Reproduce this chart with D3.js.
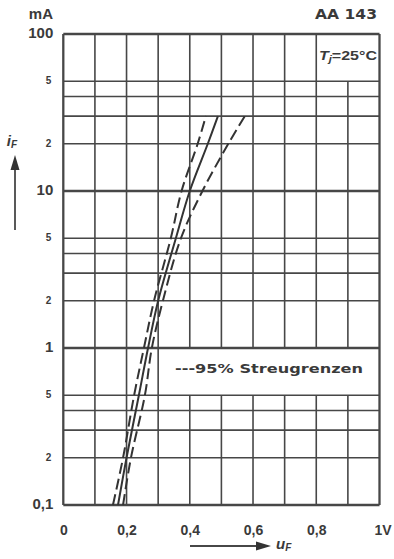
<!DOCTYPE html>
<html><head><meta charset="utf-8">
<script src="https://cdn.jsdelivr.net/npm/d3@7"></script>
<style>
html,body{margin:0;padding:0;background:#fff;}
svg{display:block;}
text{font-family:"Liberation Sans","DejaVu Sans",sans-serif;fill:#3a3a3a;}
.wide{font-family:"DejaVu Sans",sans-serif;}
</style></head>
<body>
<svg id="c" width="394" height="559"></svg>
<script>
// ---- data ----
const currents_mA = [0.1, 0.2, 0.5, 1, 2, 5, 10, 20, 30];
const typical_V   = [0.173, 0.200, 0.239, 0.268, 0.300, 0.356, 0.400, 0.457, 0.489];
const lower95_V   = [0.157, 0.189, 0.224, 0.255, 0.287, 0.340, 0.374, 0.425, 0.451];
const upper95_V   = [0.189, 0.214, 0.258, 0.280, 0.315, 0.372, 0.440, 0.522, 0.574];
const xGrid = [0, 0.1, 0.2, 0.3, 0.4, 0.5, 0.6, 0.7, 0.8, 0.9, 1.0];
const xTickVals = [0, 0.2, 0.4, 0.6, 0.8, 1.0];
const xTickLabels = ["0", "0,2", "0,4", "0,6", "0,8", "1V"];
const yGrid = [0.1,0.2,0.3,0.4,0.5,1,2,3,4,5,10,20,30,40,50,100];
const yTickVals = [0.1, 0.2, 0.5, 1, 2, 5, 10, 20, 50, 100];
const yTickLabels = ["0,1", "2", "5", "1", "2", "5", "10", "2", "5", "100"];

const svg = d3.select("#c");
const L = 63.3, R = 379.5, T = 34, B = 505;
const x = d3.scaleLinear().domain([0, 1]).range([L, R]);
const y = d3.scaleLog().domain([0.1, 100]).range([B, T]);
const ink = "#474747";

const g = svg.append("g");
// horizontal grid
yGrid.forEach(v => {
  const major = (v === 1 || v === 10 || v === 0.1 || v === 100);
  g.append("line").attr("x1", L).attr("x2", R).attr("y1", y(v)).attr("y2", y(v))
    .attr("stroke", ink).attr("stroke-width", major ? 2.3 : 1.6);
});
// vertical grid, with cut-outs for the label boxes
xGrid.forEach(v => {
  const edge = (v === 0 || v === 1);
  const segs = [];
  if (edge) segs.push([0.1, 100]);
  else {
    let top = 100;
    if (v > 0.85) top = 50;          // Tj box
    if (v > 0.35) { segs.push([0.1, 0.5]); segs.push([1, top]); } // legend box
    else segs.push([0.1, top]);
  }
  segs.forEach(s => g.append("line").attr("x1", x(v)).attr("x2", x(v))
    .attr("y1", y(s[0])).attr("y2", y(s[1]))
    .attr("stroke", ink).attr("stroke-width", edge ? 2.3 : 1.6));
});

// axes (labels only)
const ax = d3.axisBottom(x).tickValues(xTickVals).tickSize(0).tickPadding(0)
  .tickFormat((d, i) => xTickLabels[i]);
const gx = svg.append("g").attr("transform", `translate(0,${B + 26})`).call(ax);
gx.select(".domain").remove();
gx.selectAll("text").attr("dy", 0).style("font-size", "14px").style("font-weight", "bold")
  .style("fill", "#3a3a3a").attr("text-anchor", "middle").attr("dominant-baseline", "middle")
  .attr("dx", (d) => d === 1 ? 3 : 0);

const ay = d3.axisLeft(y).tickValues(yTickVals).tickSize(0).tickPadding(0)
  .tickFormat((d, i) => yTickLabels[i]);
const gy = svg.append("g").attr("transform", `translate(${L - 9},0)`).call(ay);
gy.select(".domain").remove();
gy.selectAll("text").attr("dy", 0).attr("dominant-baseline", "middle")
  .style("fill", "#3a3a3a").style("font-weight", "bold")
  .style("font-size", d => (d === 0.1 || d === 1 || d === 10 || d === 100) ? "15px" : "10px")
  .attr("x", d => (d === 0.1 || d === 1 || d === 10 || d === 100) ? -1 : -3);

// curves
const line = d3.line().x(d => x(d[0])).y(d => y(d[1])).curve(d3.curveCatmullRom);
const series = [
  {v: typical_V, dash: null},
  {v: lower95_V, dash: "11,5"},
  {v: upper95_V, dash: "11,5"}
];
series.forEach(s => {
  svg.append("path").datum(s.v.map((v, i) => [v, currents_mA[i]]))
    .attr("d", line).attr("fill", "none").attr("stroke", "#333")
    .attr("stroke-width", 2).attr("stroke-dasharray", s.dash);
});

// top texts
svg.append("text").attr("x", 53).attr("y", 15).attr("text-anchor", "end")
  .attr("dominant-baseline", "middle").style("font-size", "15px").style("font-weight", "bold").text("mA");
svg.append("text").attr("class", "wide").attr("x", 315).attr("y", 15)
  .attr("dominant-baseline", "middle").style("font-size", "14px").style("font-weight", "bold")
  .attr("textLength", 62).attr("lengthAdjust", "spacingAndGlyphs").text("AA 143");

// Tj label
const tj = svg.append("text").attr("x", 319).attr("y", 57)
  .attr("dominant-baseline", "middle").style("font-size", "13px").style("font-weight", "bold")
  .attr("textLength", 58).attr("lengthAdjust", "spacingAndGlyphs");
tj.append("tspan").style("font-style", "italic").text("T");
tj.append("tspan").style("font-style", "italic").style("font-size", "9px").attr("dy", 3).text("j");
tj.append("tspan").attr("dy", -3).text("=25°C");

// legend text
svg.append("text").attr("class", "wide").attr("x", 175).attr("y", 369)
  .attr("dominant-baseline", "middle").style("font-size", "13px").style("font-weight", "bold")
  .attr("textLength", 188).attr("lengthAdjust", "spacingAndGlyphs")
  .text("---95% Streugrenzen");

// y axis title with arrow
const yt = svg.append("text").attr("x", 12).attr("y", 142).attr("text-anchor", "middle")
  .attr("dominant-baseline", "middle").style("font-size", "15px").style("font-style", "italic").style("font-weight", "bold");
yt.append("tspan").text("i");
yt.append("tspan").style("font-size", "10px").attr("dy", 3).text("F");
svg.append("line").attr("x1", 15).attr("x2", 15).attr("y1", 230).attr("y2", 168)
  .attr("stroke", ink).attr("stroke-width", 1.8);
svg.append("path").attr("d", "M15,155 L10.5,170 L19.5,170 Z").attr("fill", "#333");

// x axis title with arrow
svg.append("line").attr("x1", 190).attr("x2", 258).attr("y1", 546).attr("y2", 546)
  .attr("stroke", ink).attr("stroke-width", 1.8);
svg.append("path").attr("d", "M271,546 L256,541.5 L256,550.5 Z").attr("fill", "#333");
const xt = svg.append("text").attr("x", 276).attr("y", 545).attr("dominant-baseline", "middle")
  .style("font-size", "15px").style("font-style", "italic").style("font-weight", "bold");
xt.append("tspan").text("u");
xt.append("tspan").style("font-size", "10px").attr("dy", 3).text("F");
</script>
</body></html>
